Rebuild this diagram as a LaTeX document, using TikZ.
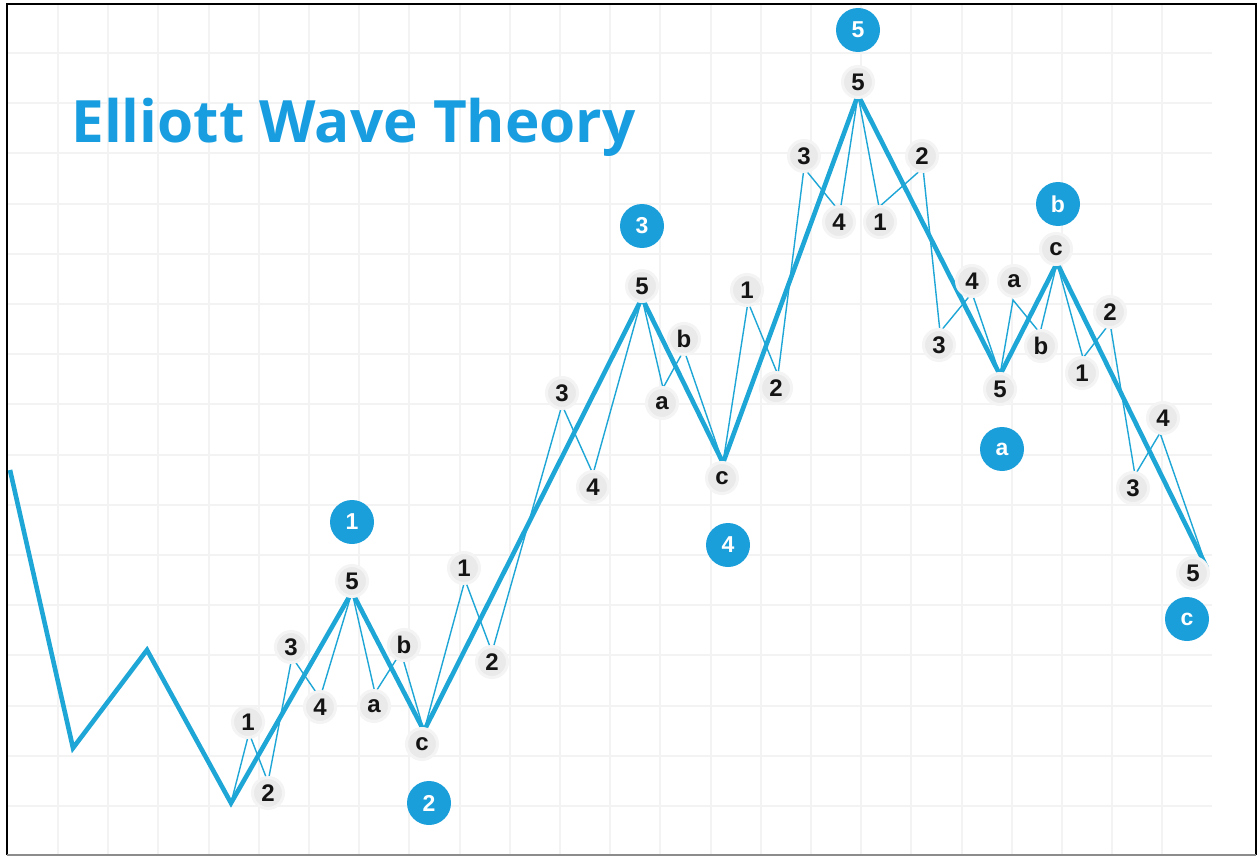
\documentclass[tikz,border=0pt]{standalone}
\usepackage{fontspec}
\setmainfont{Liberation Sans}
\newfontfamily\titlefont{Open Sans}
\definecolor{wave}{RGB}{30,166,214}
\definecolor{dot}{RGB}{26,159,219}
\definecolor{ttl}{RGB}{24,158,224}
\definecolor{gridc}{RGB}{243,243,243}
\definecolor{lblfill}{RGB}{234,234,234}
\definecolor{lblring}{RGB}{244,244,244}
\begin{document}
\begin{tikzpicture}[x=0.5pt,y=-0.5pt,
  lbl/.style={circle,fill=lblfill,draw=lblring,line width=1.5pt,minimum size=15.5pt,inner sep=0pt,
    font=\bfseries\fontsize{12}{12}\selectfont,text=black!92},
  big/.style={circle,fill=dot,minimum size=22pt,inner sep=0pt,
    font=\bfseries\fontsize{11.5}{11.5}\selectfont,text=white},
  mainwave/.style={draw=wave,line width=2.3pt,line join=miter},
  subwave/.style={draw=wave,line width=0.7pt,line join=miter},
  gridline/.style={draw=gridc,line width=1pt}]
\fill[white] (0,0) rectangle (1259,856);
\useasboundingbox (0,0) rectangle (1259,856);
% grid
\foreach \i in {0,...,22} \draw[gridline] ({58+50.2*\i},5) -- ({58+50.2*\i},854);
\foreach \j in {0,...,15} \draw[gridline] (8,{53+50.2*\j}) -- (1212,{53+50.2*\j});
% frame
\draw[black,line width=1.25pt] (7,855) -- (7,4) -- (1256,4) -- (1256,855);
\draw[black!45,line width=1pt] (7,855) -- (1256,855);
% title
\node[anchor=base west,inner sep=0pt,text=ttl,font=\titlefont\bfseries\fontsize{29.2}{29.2}\selectfont] (title) at (71,142) {Elliott Wave Theory};
% main vertices
\coordinate (P0) at (10,470);
\coordinate (P1) at (73,748);
\coordinate (P2) at (147,650);
\coordinate (W0) at (231,803);
\coordinate (W1) at (352,592);
\coordinate (W2) at (424,731);
\coordinate (W3) at (642,298);
\coordinate (W4) at (723,463);
\coordinate (W5) at (858,95);
\coordinate (WA) at (1000,375);
\coordinate (WB) at (1057,263);
\coordinate (WC) at (1207,568);
% sub vertices
\coordinate (s11) at (249,733); \coordinate (s12) at (268,782); \coordinate (s13) at (292,657); \coordinate (s14) at (320,698);
\coordinate (s2a) at (375,693); \coordinate (s2b) at (401,652);
\coordinate (s31) at (465,580); \coordinate (s32) at (492,652); \coordinate (s33) at (562,405); \coordinate (s34) at (593,474);
\coordinate (s4a) at (663,388); \coordinate (s4b) at (684,350);
\coordinate (s51) at (748,302); \coordinate (s52) at (778,375); \coordinate (s53) at (804,168); \coordinate (s54) at (840,212);
\coordinate (sA1) at (879,207); \coordinate (sA2) at (923,168); \coordinate (sA3) at (940,332); \coordinate (sA4) at (972,293);
\coordinate (sBa) at (1013,300); \coordinate (sBb) at (1040,333);
\coordinate (sC1) at (1083,358); \coordinate (sC2) at (1110,323); \coordinate (sC3) at (1135,475); \coordinate (sC4) at (1160,433);
% sub waves
\draw[subwave] (W0) -- (s11) -- (s12) -- (s13) -- (s14) -- (W1);
\draw[subwave] (W1) -- (s2a) -- (s2b) -- (W2);
\draw[subwave] (W2) -- (s31) -- (s32) -- (s33) -- (s34) -- (W3);
\draw[subwave] (W3) -- (s4a) -- (s4b) -- (W4);
\draw[subwave] (W4) -- (s51) -- (s52) -- (s53) -- (s54) -- (W5);
\draw[subwave] (W5) -- (sA1) -- (sA2) -- (sA3) -- (sA4) -- (WA);
\draw[subwave] (WA) -- (sBa) -- (sBb) -- (WB);
\draw[subwave] (WB) -- (sC1) -- (sC2) -- (sC3) -- (sC4) -- (WC);
% main wave
\draw[mainwave] (P0) -- (P1) -- (P2) -- (W0) -- (W1) -- (W2) -- (W3) -- (W4) -- (W5) -- (WA) -- (WB) -- (WC);
% small labels
\node[lbl] (l11) at (248,722) {1};
\node[lbl] (l12) at (268,793) {2};
\node[lbl] (l13) at (291,647) {3};
\node[lbl] (l14) at (320,707) {4};
\node[lbl] (l15) at (352,581) {5};
\node[lbl] (l2a) at (374,706) {a};
\node[lbl] (l2b) at (404,645) {b};
\node[lbl] (l2c) at (422,744) {c};
\node[lbl] (l31) at (464,568) {1};
\node[lbl] (l32) at (492,662) {2};
\node[lbl] (l33) at (562,393) {3};
\node[lbl] (l34) at (593,487) {4};
\node[lbl] (l35) at (642,286) {5};
\node[lbl] (l4a) at (662,403) {a};
\node[lbl] (l4b) at (684,339) {b};
\node[lbl] (l4c) at (722,478) {c};
\node[lbl] (l51) at (747,290) {1};
\node[lbl] (l52) at (776,388) {2};
\node[lbl] (l53) at (804,156) {3};
\node[lbl] (l54) at (839,222) {4};
\node[lbl] (l55) at (858,82) {5};
\node[lbl] (lA1) at (880,222) {1};
\node[lbl] (lA2) at (922,156) {2};
\node[lbl] (lA3) at (939,345) {3};
\node[lbl] (lA4) at (972,281) {4};
\node[lbl] (lA5) at (1000,389) {5};
\node[lbl] (lBa) at (1014,281) {a};
\node[lbl] (lBb) at (1041,346) {b};
\node[lbl] (lBc) at (1056,249) {c};
\node[lbl] (lC1) at (1082,373) {1};
\node[lbl] (lC2) at (1110,312) {2};
\node[lbl] (lC3) at (1133,488) {3};
\node[lbl] (lC4) at (1163,418) {4};
\node[lbl] (lC5) at (1193,573) {5};
% big wave labels
\node[big] (b1) at (352,522) {1};
\node[big] (b2) at (429,803) {2};
\node[big] (b3) at (642,226) {3};
\node[big] (b4) at (728,545) {4};
\node[big] (b5) at (858,30) {5};
\node[big] (ba) at (1002,449) {a};
\node[big] (bb) at (1058,204) {b};
\node[big] (bc) at (1187,619) {c};
\end{tikzpicture}
\end{document}
